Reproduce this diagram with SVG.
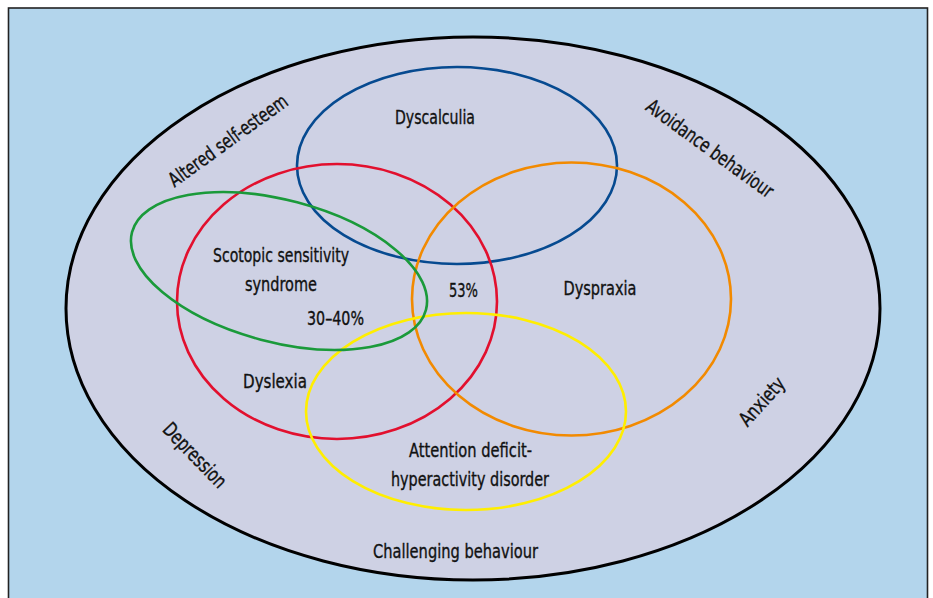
<svg xmlns="http://www.w3.org/2000/svg" width="933" height="598" viewBox="0 0 933 598">
<style>
.t{font-family:"DejaVu Sans Condensed","Liberation Sans Narrow","Liberation Sans",sans-serif;font-stretch:condensed;font-size:20px;fill:#111;stroke:#111;stroke-width:0.35;text-anchor:middle}
.c{fill:none;stroke-width:2.6}
</style>
<rect x="0" y="0" width="933" height="598" fill="#ffffff"/>
<rect x="8.5" y="8" width="919" height="610" fill="#b3d5ec" stroke="#222" stroke-width="1.6"/>
<g id="outer">
<ellipse cx="473" cy="308.5" rx="407" ry="271.5" fill="#ced1e4" stroke="#000" stroke-width="3"/>
</g>
<g id="dyscalculia"><ellipse class="c" cx="457" cy="165.5" rx="160" ry="98.5" stroke="#064a90"/><text class="t" x="435" y="124" textLength="80" lengthAdjust="spacingAndGlyphs">Dyscalculia</text></g>
<g id="dyslexia"><ellipse class="c" cx="337" cy="301.5" rx="160" ry="137.5" stroke="#e2102e"/><text class="t" x="275" y="388" textLength="64" lengthAdjust="spacingAndGlyphs">Dyslexia</text></g>
<g id="dyspraxia"><ellipse class="c" cx="571.5" cy="299" rx="159.5" ry="136.5" stroke="#f28a00"/><text class="t" x="600" y="295" textLength="73" lengthAdjust="spacingAndGlyphs">Dyspraxia</text></g>
<g id="adhd"><ellipse class="c" cx="466" cy="411.5" rx="160" ry="98.5" stroke="#ffee00"/><text class="t" x="470.5" y="457" textLength="123" lengthAdjust="spacingAndGlyphs">Attention deficit-</text><text class="t" x="470" y="486" textLength="158" lengthAdjust="spacingAndGlyphs">hyperactivity disorder</text></g>
<g id="scotopic"><ellipse class="c" cx="279" cy="271" rx="152" ry="71" transform="rotate(14.8 279 271)" stroke="#1a9a3a"/><text class="t" x="281" y="262" textLength="136" lengthAdjust="spacingAndGlyphs">Scotopic sensitivity</text><text class="t" x="281" y="291" textLength="72" lengthAdjust="spacingAndGlyphs">syndrome</text><text class="t" x="335.5" y="325" textLength="57" lengthAdjust="spacingAndGlyphs">30–40%</text></g>
<g id="overlap"><text class="t" x="463.5" y="297" textLength="29" lengthAdjust="spacingAndGlyphs">53%</text></g>
<g id="outer-labels">
<text class="t" transform="translate(232 146) rotate(-36)" textLength="142" lengthAdjust="spacingAndGlyphs">Altered self-esteem</text>
<text class="t" transform="translate(706 154) rotate(36)" textLength="152" lengthAdjust="spacingAndGlyphs">Avoidance behaviour</text>
<text class="t" transform="translate(767 406) rotate(-48)" textLength="58" lengthAdjust="spacingAndGlyphs">Anxiety</text>
<text class="t" transform="translate(190 460) rotate(46)" textLength="82" lengthAdjust="spacingAndGlyphs">Depression</text>
<text class="t" x="455.5" y="558" textLength="165" lengthAdjust="spacingAndGlyphs">Challenging behaviour</text>
</g>
<g id="connectors"/>
</svg>
